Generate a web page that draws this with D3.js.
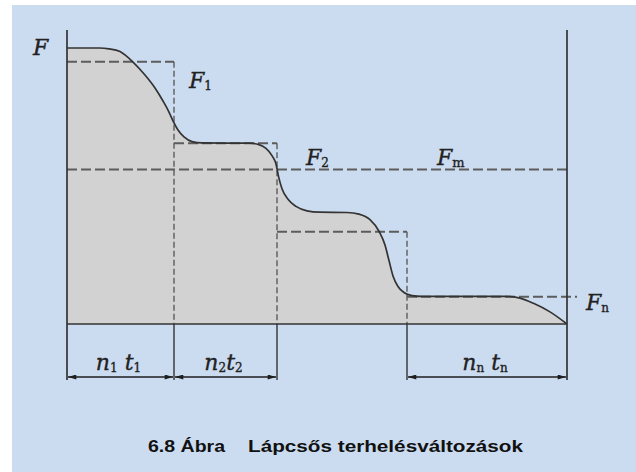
<!DOCTYPE html>
<html>
<head>
<meta charset="utf-8">
<script src="https://cdn.jsdelivr.net/npm/d3@7"></script>
<style>
  html, body { margin: 0; padding: 0; background: #ffffff; }
  svg { display: block; }
</style>
</head>
<body>
<svg id="chart" width="636" height="472"></svg>
<script>
// Step boundaries along the time axis (cumulative n·t), in time units
const stepBounds = [0, 21.4, 42, 68, 100];
// Equivalent step load levels F1, F2, F3, Fn
const stepLevels = [95, 65.5, 33.4, 9.9];
// Mean load Fm
const meanLevel = 56;
// Actual (smooth) load curve F(t)
const loadT = [0, 6.5, 8.4, 10.6, 13.2, 15.6, 17.6, 19.2, 20.4, 21.2, 22.2, 23.4, 25.0, 27.0, 36.6, 38.4, 39.8, 41.0, 41.8, 42.3, 43.0, 44.2, 45.8, 48.0, 50.5, 56.0, 58.4, 60.6, 62.4, 63.6, 64.4, 65.2, 66.2, 67.4, 69.0, 71.0, 88.0, 90.6, 93.4, 96.6, 100];
const loadF = [100, 100, 99.7, 98.7, 94.9, 90.2, 85.5, 80.8, 76.8, 73.6, 70.3, 67.8, 66.1, 65.6, 65.5, 65.0, 63.6, 61.0, 58.0, 53.5, 49.0, 45.2, 42.6, 41.0, 40.5, 40.4, 39.8, 37.8, 33.6, 28.6, 23.0, 17.4, 13.6, 11.4, 10.3, 10.0, 10.0, 9.4, 7.4, 4.4, 0];
// Duration labels under the steps: [main, sub, main, sub]
const durationLabels = [["n", "1", " t", "1"], ["n", "2", "t", "2"], ["n", "n", " t", "n"]];
const durationSteps = [0, 1, 3];
// Level labels
const levelLabels = [["F", "1"], ["F", "2"], ["F", "m"], ["F", "n"]];
const axisLabel = "F";
const titleNumber = "6.8 Ábra";
const titleText = "Lápcsős terhelésváltozások";

const svg = d3.select("#chart");
const W = 636, H = 472;

// background panel
svg.append("rect").attr("x", 12).attr("y", 5).attr("width", W - 12).attr("height", H - 5)
  .attr("fill", "#ccdcf0");

const x = d3.scaleLinear().domain([0, 100]).range([67, 567]);
const y = d3.scaleLinear().domain([0, 100]).range([324, 48]);
const yTop = 106.5;        // top of the two vertical frame lines
const dimY = 377;          // dimension arrow line
const dimEnd = 380;        // extension lines end

const ink = "#333333";
const dashInk = "#5c5c5c";

const pts = loadT.map((t, i) => [t, loadF[i]]);
const curve = d3.curveMonotoneX;

// shaded area under the load curve
svg.append("path")
  .datum(pts)
  .attr("d", d3.area().x(d => x(d[0])).y0(y(0)).y1(d => y(d[1])).curve(curve))
  .attr("fill", "#d2d2d2");

// dashed equivalent steps: horizontal levels
const hDash = "10,4";
stepLevels.forEach((lv, i) => {
  const x1 = stepBounds[i];
  const x2 = i === stepLevels.length - 1 ? 102 : stepBounds[i + 1];
  svg.append("line")
    .attr("x1", x(x1)).attr("x2", x(x2)).attr("y1", y(lv)).attr("y2", y(lv))
    .attr("stroke", dashInk).attr("stroke-width", 2).attr("stroke-dasharray", hDash);
});
// dashed verticals from each level down to the baseline
stepLevels.forEach((lv, i) => {
  if (i === stepLevels.length - 1) return;
  svg.append("line")
    .attr("x1", x(stepBounds[i + 1])).attr("x2", x(stepBounds[i + 1]))
    .attr("y1", y(lv)).attr("y2", y(0))
    .attr("stroke", dashInk).attr("stroke-width", 1.4).attr("stroke-dasharray", "6,3");
});
// mean load line
svg.append("line")
  .attr("x1", x(0)).attr("x2", x(100)).attr("y1", y(meanLevel)).attr("y2", y(meanLevel))
  .attr("stroke", dashInk).attr("stroke-width", 2).attr("stroke-dasharray", hDash);

// load curve outline
svg.append("path")
  .datum(pts)
  .attr("d", d3.line().x(d => x(d[0])).y(d => y(d[1])).curve(curve))
  .attr("fill", "none").attr("stroke", ink).attr("stroke-width", 1.7);

// frame: left axis, right line, baseline
svg.append("line").attr("x1", x(0)).attr("x2", x(0)).attr("y1", y(yTop)).attr("y2", dimEnd)
  .attr("stroke", ink).attr("stroke-width", 1.7);
svg.append("line").attr("x1", x(100)).attr("x2", x(100)).attr("y1", y(yTop)).attr("y2", dimEnd)
  .attr("stroke", ink).attr("stroke-width", 1.7);
svg.append("line").attr("x1", x(0)).attr("x2", x(100)).attr("y1", y(0)).attr("y2", y(0))
  .attr("stroke", ink).attr("stroke-width", 1.7);

// extension lines below the baseline
[1, 2, 3].forEach(i => {
  svg.append("line").attr("x1", x(stepBounds[i])).attr("x2", x(stepBounds[i]))
    .attr("y1", y(0)).attr("y2", dimEnd)
    .attr("stroke", ink).attr("stroke-width", 1.4);
});

// arrow marker
const defs = svg.append("defs");
defs.append("marker").attr("id", "arr")
  .attr("viewBox", "0 0 10 6").attr("refX", 10).attr("refY", 3)
  .attr("markerWidth", 11).attr("markerHeight", 5).attr("markerUnits", "userSpaceOnUse")
  .attr("orient", "auto-start-reverse")
  .append("path").attr("d", "M0,0 L10,3 L0,6 Z").attr("fill", "#1e1e1e");

const mathFont = "'DejaVu Serif', 'Liberation Serif', serif";

function mathLabel(parts, px, py, anchor, size, subSize) {
  const t = svg.append("text").attr("x", px).attr("y", py)
    .attr("text-anchor", anchor).attr("fill", "#222")
    .attr("stroke", "#222").attr("stroke-width", 0.35)
    .style("font-family", mathFont);
  for (let k = 0; k < parts.length; k += 2) {
    t.append("tspan").text(parts[k]).style("font-style", "italic").style("font-size", size + "px")
      .attr("dy", k === 0 ? 0 : -2);
    if (parts[k + 1] !== undefined) {
      t.append("tspan").text(parts[k + 1]).style("font-style", "normal")
        .style("font-size", subSize + "px").attr("dy", 2);
    }
  }
  return t;
}

// dimension arrows with duration labels
durationSteps.forEach((s, j) => {
  const a = x(stepBounds[s]), b = x(stepBounds[s + 1]);
  svg.append("line").attr("x1", a + 1).attr("x2", b - 1).attr("y1", dimY).attr("y2", dimY)
    .attr("stroke", "#1e1e1e").attr("stroke-width", 1.3)
    .attr("marker-start", "url(#arr)").attr("marker-end", "url(#arr)");
  mathLabel(durationLabels[j], (a + b) / 2 - 2, 370, "middle", 22, 12);
});

// level labels
mathLabel([axisLabel], 33, 55, "start", 22, 12);
mathLabel(levelLabels[0], x(stepBounds[1]) + 15, y(stepLevels[0]) + 26, "start", 22, 12);
mathLabel(levelLabels[1], x(stepBounds[2]) + 29, y(meanLevel) - 4, "start", 22, 12);
mathLabel(levelLabels[2], x(74.0), y(meanLevel) - 4, "start", 22, 13);
mathLabel(levelLabels[3], x(100) + 19, y(stepLevels[3]) + 13, "start", 22, 12);

// caption
const capFont = "'Liberation Sans', Arial, sans-serif";
svg.append("text").attr("x", 148).attr("y", 452).text(titleNumber)
  .attr("textLength", 77).attr("lengthAdjust", "spacingAndGlyphs")
  .style("font-family", capFont).style("font-weight", "bold").style("font-size", "17px")
  .attr("fill", "#111");
svg.append("text").attr("x", 248).attr("y", 452).text(titleText)
  .attr("textLength", 275).attr("lengthAdjust", "spacingAndGlyphs")
  .style("font-family", capFont).style("font-weight", "bold").style("font-size", "17px")
  .attr("fill", "#111");
</script>
</body>
</html>
